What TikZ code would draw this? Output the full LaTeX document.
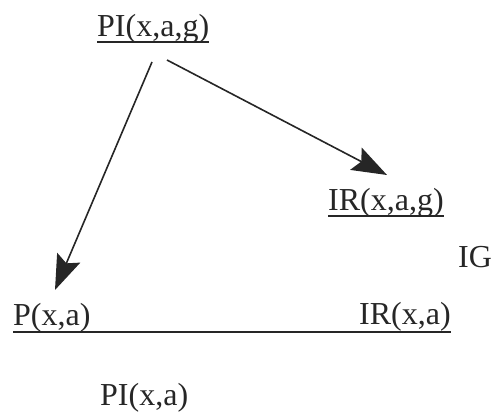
\documentclass[tikz,border=0pt]{standalone}
\usepackage{fontspec}
\setmainfont{Liberation Serif}
\usetikzlibrary{arrows.meta}
\begin{document}
\begin{tikzpicture}[x=1pt,y=-1pt,
  lbl/.style={anchor=base west,inner sep=0pt,font=\fontsize{32}{36}\selectfont,text=black!85},
  rule/.style={line width=1.6pt,black!85},
  arr/.style={line width=1.6pt,black!85,-{Stealth[length=35pt,width=25pt,inset=6pt]}}]
\useasboundingbox (0,0) rectangle (494,417);
\node[lbl] (pig) at (97,37) {PI(x,a,g)};
\node[lbl] (irg) at (328,210) {IR(x,a,g)};
\node[lbl] (ig) at (458,267) {IG};
\node[lbl] (p) at (13,325) {P(x,a)};
\node[lbl] (ir) at (359,324) {IR(x,a)};
\node[lbl] (pi) at (100,405) {PI(x,a)};
\draw[rule] ([yshift=-5pt]pig.base west) -- ([yshift=-5pt]pig.base east);
\draw[rule] ([yshift=-6pt]irg.base west) -- ([yshift=-6pt]irg.base east);
\draw[rule] ([yshift=-7pt]p.base west) coordinate (l1) -- ([yshift=-8pt]ir.base east) coordinate (l2);
\coordinate (s1) at (152,62);
\coordinate (s2) at (167,60);
\coordinate (t1) at (55,290);
\coordinate (t2) at (387,175);
\draw[arr] (s1) -- (t1);
\draw[arr] (s2) -- (t2);
\end{tikzpicture}
\end{document}
